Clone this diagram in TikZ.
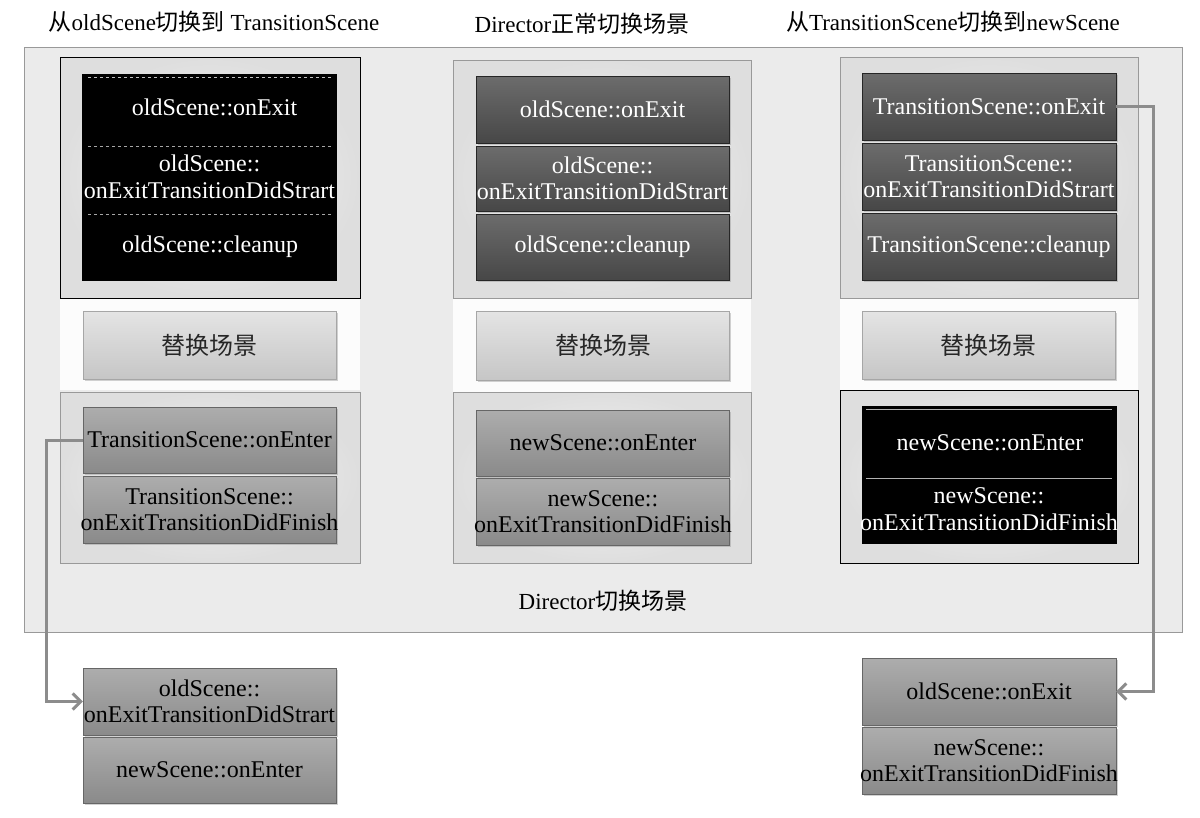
\documentclass[tikz,border=0pt]{standalone}
\usepackage{fontspec}
\setmainfont{Liberation Serif}
\newfontfamily\cjk{Noto Sans CJK SC}
\usetikzlibrary{shadows,arrows.meta}
\definecolor{darkT}{HTML}{6C6C6C}
\definecolor{darkB}{HTML}{474747}
\definecolor{medT}{HTML}{ADADAD}
\definecolor{medB}{HTML}{8A8A8A}
\definecolor{lightT}{HTML}{E4E4E4}
\definecolor{lightB}{HTML}{C6C6C6}
\definecolor{outerfill}{HTML}{EBEBEB}
\definecolor{grpfill}{HTML}{DEDEDE}
\definecolor{arrowgray}{HTML}{8C8C8C}
\tikzset{
  txt/.style={font=\fontsize{24}{26.5}\selectfont, align=center, inner ysep=0pt, inner xsep=-10pt},
  basebox/.style={txt, minimum width=253pt, drop shadow={shadow xshift=1.5pt, shadow yshift=-2pt, opacity=0.35}},
  darkbox/.style={basebox, top color=darkT, bottom color=darkB, draw=black!85, text=white},
  medbox/.style={basebox, top color=medT, bottom color=medB, draw=black!60, text=black},
  lightbox/.style={basebox, top color=lightT, bottom color=lightB, draw=black!35, text=black!85},
  blackbox/.style={fill=black, draw=black, minimum width=254pt},
  grp/.style={draw=#1, line width=0.8pt, inner color=white!70!grpfill, outer color=grpfill},
  midsec/.style={fill=white!90!grpfill},
  flow/.style={draw=arrowgray, line width=3pt, -{Straight Barb[length=8pt,width=16pt,line width=3pt]}},
  sep/.style={draw=gray!70, line width=0.7pt, dashed},
  title/.style={font=\fontsize{23}{26}\selectfont, inner sep=0pt}
}
\begin{document}
\begin{tikzpicture}[x=1pt,y=-1pt]
\useasboundingbox (0,0) rectangle (1200,817);
\fill[white] (0,0) rectangle (1200,817);
% outer box
\draw[draw=black!40, line width=1pt, fill=outerfill] (24,47) rectangle (1182,632);
\node[title] (outerlabel) at (603,601) {Director{\cjk 切换场景}};
% titles
\node[title] (t1) at (214,22) {{\cjk 从}oldScene{\cjk 切换到} TransitionScene};
\node[title] (t2) at (582,24) {Director{\cjk 正常切换场景}};
\node[title] (t3) at (953,22) {{\cjk 从}TransitionScene{\cjk 切换到}newScene};

% ---------- column 1 ----------
\path[midsec] (60,298) rectangle (360,390);
\path[grp=black] (60,57) rectangle (360,298);
\path[grp=black!40] (60,392) rectangle (360,563);
\node[blackbox, minimum height=206pt] (c1blk) at (209.5,177) {};
\draw[sep, draw=gray!50] (88,77) -- (332,77);
\draw[sep] (88,146) -- (332,146);
\draw[sep] (88,214) -- (332,214);
\node[txt, text=white] (c1a) at (214.5,107) {oldScene::onExit};
\node[txt, text=white] (c1b) at (209.5,177) {oldScene::\\onExitTransitionDidStrart};
\node[txt, text=white] (c1c) at (210,247) {oldScene::cleanup};
\node[lightbox, minimum height=68pt] (c1r) at (209.5,345) {{\cjk 替换场景}};
\node[medbox, minimum height=66pt] (c1e) at (209.5,440) {TransitionScene::onEnter};
\node[medbox, minimum height=67pt] (c1f) at (209.5,509.5) {TransitionScene::\\onExitTransitionDidFinish};

% ---------- column 2 ----------
\path[midsec] (453,298) rectangle (751,392);
\path[grp=black!40] (453,60) rectangle (751,298);
\path[grp=black!40] (453,392) rectangle (751,563);
\node[darkbox, minimum height=67pt] (c2a) at (602.5,109.5) {oldScene::onExit};
\node[darkbox, minimum height=65pt] (c2b) at (602.5,178.5) {oldScene::\\onExitTransitionDidStrart};
\node[darkbox, minimum height=66pt] (c2c) at (602.5,247) {oldScene::cleanup};
\node[lightbox, minimum height=69pt] (c2r) at (603,345.5) {{\cjk 替换场景}};
\node[medbox, minimum height=66pt] (c2e) at (603,443) {newScene::onEnter};
\node[medbox, minimum height=67pt] (c2f) at (603,511.5) {newScene::\\onExitTransitionDidFinish};

% ---------- column 3 ----------
\path[midsec] (840,298) rectangle (1138,390);
\path[grp=black!40] (840,57) rectangle (1138,298);
\path[grp=black] (840,390) rectangle (1138,563);
\node[darkbox, minimum width=254pt, minimum height=67pt] (c3a) at (989,106.5) {TransitionScene::onExit};
\node[darkbox, minimum width=254pt, minimum height=67pt] (c3b) at (989,176.5) {TransitionScene::\\onExitTransitionDidStrart};
\node[darkbox, minimum width=254pt, minimum height=67pt] (c3c) at (989,246.5) {TransitionScene::cleanup};
\node[lightbox, minimum height=68pt] (c3r) at (988.5,345) {{\cjk 替换场景}};
\node[blackbox, minimum height=137pt] (c3blk) at (989,474.5) {};
\draw[draw=gray!60, line width=0.7pt] (866,409) -- (1112,409);
\draw[draw=gray!60, line width=0.7pt] (866,478) -- (1112,478);
\node[txt, text=white] (c3e) at (990,443) {newScene::onEnter};
\node[txt, text=white] (c3f) at (989,509) {newScene::\\onExitTransitionDidFinish};

% ---------- bottom boxes ----------
\node[medbox, minimum height=67pt] (bl1) at (209.5,701.5) {oldScene::\\onExitTransitionDidStrart};
\node[medbox, minimum height=66pt] (bl2) at (209.5,770) {newScene::onEnter};
\node[medbox, minimum width=254pt, minimum height=67pt] (br1) at (989,691.5) {oldScene::onExit};
\node[medbox, minimum width=254pt, minimum height=67pt] (br2) at (989,760.5) {newScene::\\onExitTransitionDidFinish};

% ---------- connectors ----------
\coordinate (lturn) at (46,440);
\coordinate (rturn) at (1153,106.5);
\draw[flow] (c1e.west) -- (lturn) |- (bl1.west);
\draw[flow] (c3a.east) -- (rturn) |- (br1.east);
\end{tikzpicture}
\end{document}
